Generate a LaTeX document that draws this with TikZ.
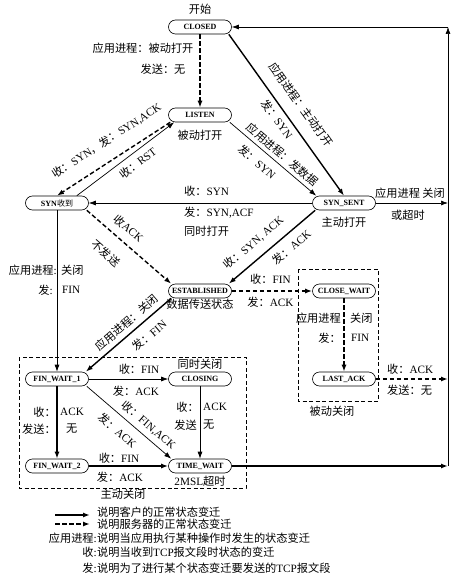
\documentclass[tikz,border=0pt]{standalone}
\usepackage{fontspec}
\setmainfont{Liberation Serif}
\newfontfamily\cjk{Noto Sans CJK SC}
\newcommand{\zh}[1]{{\cjk #1}}
\usepackage{tikz}
\usetikzlibrary{arrows.meta, positioning}
\tikzset{
	state/.style ={rectangle, rounded corners=7pt, draw=black, semithick, minimum width=63pt, minimum height=14pt, inner sep=1pt, font=\fontsize{8}{9}\selectfont\bfseries},
	client/.style={-{Latex[length=7pt, width=5pt]}, line width=1.4pt},
	server/.style={-{Latex[length=7pt, width=5pt]}, line width=1.4pt, dash pattern=on 4.5pt off 2.5pt},
	plain/.style ={-{Latex[length=7pt, width=5pt]}, line width=0.7pt},
	lbl/.style   ={font=\fontsize{11.2}{13}\selectfont, inner sep=0pt},
	zone/.style  ={draw=black, thin, dash pattern=on 4pt off 2.5pt},
}
\begin{document}
\begin{tikzpicture}[x=1pt, y=-1pt]
\useasboundingbox (0,0) rectangle (465,580);
\node[state] (closed)    at (200,27)  {CLOSED};
\node[state] (listen)    at (200,115) {LISTEN};
\node[state] (synrcvd)   at (57,203)  {SYN{\cjk\mdseries 收到}};
\node[state] (synsent)   at (344,203) {SYN\_SENT};
\node[state] (estab)     at (200,291) {ESTABLISHED};
\node[state] (closewait) at (344,291) {CLOSE\_WAIT};
\node[state] (finwait1)  at (57,379)  {FIN\_WAIT\_1};
\node[state] (closing)   at (200,379) {CLOSING};
\node[state] (lastack)   at (344,379) {LAST\_ACK};
\node[state] (finwait2)  at (57,466)  {FIN\_WAIT\_2};
\node[state] (timewait)  at (200,466) {TIME\_WAIT};
\coordinate (rtop)  at (448,27);
\coordinate (rsyn)  at (448,203);
\coordinate (rlast) at (448,379);
\coordinate (rbot)  at (448,466);
\draw[zone] (298,269) rectangle (378,401);
\draw[zone] (19,357) rectangle (246,488);
\node[lbl, above=5pt of closed] (start) {\zh{开始}};
\node[lbl, below=8pt of listen] (passopen) {\zh{被动打开}};
\node[lbl, below=7pt of synsent] (actopen) {\zh{主动打开}};
\node[lbl, below=1pt of estab] (datastate) {\zh{数据传送状态}};
\node[lbl, above=2pt of closing] (simclose) {\zh{同时关闭}};
\node[lbl, below=3pt of timewait] (msl) {2MSL\zh{超时}};
\node[lbl] (passclose) at (332,411) {\zh{被动关闭}};
\node[lbl] (actclose) at (123,494) {\zh{主动关闭}};

\draw[server] (closed) -- (listen);
\node[lbl] (c1) at (143,48) {\zh{应用进程：被动打开}};
\node[lbl] (c2) at (163,69) {\zh{发送：无}};
\draw[client] ([xshift=-3pt]closed.south east) -- (synsent.north)
	node[lbl, sloped, above=12pt, pos=0.5] (c3) {\zh{应用进程：主动打开}}
	node[lbl, sloped, below=4pt, pos=0.49] (c4) {\zh{发：}SYN};
\draw[plain] ([xshift=-2pt]listen.south east) -- ([xshift=4pt]synsent.north west)
	node[lbl, sloped, above=4pt, pos=0.54] (l1) {\zh{应用进程：发数据}}
	node[lbl, sloped, below=7pt, pos=0.41] (l2) {\zh{发：}SYN};
\draw[server] ([xshift=2pt]listen.south west) -- (synrcvd.north)
	node[lbl, sloped, above=13pt, pos=0.47] (l3) {\zh{收：}SYN\zh{，发：}SYN,ACK};
\draw[plain] ([xshift=-12pt]synrcvd.north east) -- ([xshift=6pt]listen.south west)
	node[lbl, sloped, below=5pt, pos=0.56] (r1) {\zh{收：}RST};
\draw[plain] (synsent) -- (synrcvd);
\node[lbl, anchor=west] (s1) at (184,191) {\zh{收：}SYN};
\node[lbl, anchor=west] (s2) at (184,213) {\zh{发：}SYN,ACF};
\node[lbl, anchor=west] (s3) at (184,231) {\zh{同时打开}};
\draw[plain] (synsent) -- (rsyn);
\node[lbl] (s4) at (410,193) {\zh{应用进程 关闭}};
\node[lbl] (s5) at (408,215) {\zh{或超时}};
\draw[server] ([xshift=-2pt]synrcvd.south east) -- ([xshift=3pt]estab.north west)
	node[lbl, sloped, above=8pt, pos=0.39] (r2) {\zh{收}ACK}
	node[lbl, sloped, below=14pt, pos=0.38] (r3) {\zh{不发送}};
\draw[client] ([xshift=3pt]synsent.south west) -- ([xshift=-3pt]estab.north east)
	node[lbl, sloped, above=9pt, pos=0.6] (s6) {\zh{收：}SYN, ACK}
	node[lbl, sloped, below=7pt, pos=0.37] (s7) {\zh{发：}ACK};
\draw[server] (estab) -- (closewait)
	node[lbl, above=5.5pt, pos=0.48] (e1) {\zh{收：}FIN}
	node[lbl, below=5.5pt, pos=0.48] (e2) {\zh{发：}ACK};
\draw[server] (closewait) -- (lastack);
\node[lbl, anchor=east] (w1) at (341,318) {\zh{应用进程}};
\node[lbl, anchor=west] (w2) at (350,318) {\zh{关闭}};
\node[lbl, anchor=east] (w3) at (341,338) {\zh{发：}};
\node[lbl, anchor=west] (w4) at (351,338) {FIN};
\draw[server] (lastack) -- (rlast);
\node[lbl, anchor=west] (k1) at (387,369) {\zh{收：}ACK};
\node[lbl, anchor=west] (k2) at (387,390) {\zh{发送：无}};
\draw[plain] (synrcvd) -- (finwait1);
\node[lbl, anchor=east] (v1) at (57,270) {\zh{应用进程}:};
\node[lbl, anchor=west] (v2) at (61,270) {\zh{关闭}};
\node[lbl, anchor=east] (v3) at (53,290) {\zh{发}:};
\node[lbl, anchor=west] (v4) at (62,290) {FIN};
\draw[client] ([xshift=3pt]estab.south west) -- ([xshift=-3pt]finwait1.north east)
	node[lbl, sloped, above=4.5pt, pos=0.44] (e3) {\zh{应用进程：关闭}}
	node[lbl, sloped, below=8pt, pos=0.36] (e4) {\zh{发：}FIN};
\draw[plain] (finwait1) -- (closing);
\node[lbl] (f1) at (139,369) {\zh{收：}FIN};
\node[lbl] (f2) at (136,391) {\zh{发：}ACK};
\draw[plain] ([xshift=-2pt]finwait1.south east) -- ([xshift=3pt]timewait.north west)
	node[lbl, sloped, above=5pt, pos=0.65] (f3) {\zh{收：}FIN,ACK}
	node[lbl, sloped, below=8pt, pos=0.47] (f4) {\zh{发：}ACK};
\draw[client] (finwait1) -- (finwait2);
\node[lbl, anchor=east] (f5) at (56,412) {\zh{收：}};
\node[lbl, anchor=west] (f6) at (60,412) {ACK};
\node[lbl, anchor=east] (f7) at (56,429) {\zh{发送：}};
\node[lbl, anchor=west] (f8) at (66,429) {\zh{无}};
\draw[plain] (closing) -- (timewait);
\node[lbl, anchor=east] (g1) at (199,407) {\zh{收：}};
\node[lbl, anchor=west] (g2) at (203,407) {ACK};
\node[lbl, anchor=east] (g3) at (197,425) {\zh{发送}};
\node[lbl, anchor=west] (g4) at (203,425) {\zh{无}};
\draw[client] (finwait2) -- (timewait);
\node[lbl] (h1) at (119,458) {\zh{收：}FIN};
\node[lbl] (h2) at (120,477) {\zh{发：}ACK};
\draw[client] (timewait) -- (rbot);
\draw[plain] (rbot) -- (rtop);
\draw[plain] (rtop) -- (closed);

\coordinate (ka) at (55,515);
\coordinate (kb) at (90,515);
\coordinate (kc) at (55,524);
\coordinate (kd) at (90,524);
\draw[client] (ka) -- (kb);
\draw[server] (kc) -- (kd);
\node[lbl, anchor=west] (n1) at (97,512) {\zh{说明客户的正常状态变迁}};
\node[lbl, anchor=west] (n2) at (97,524) {\zh{说明服务器的正常状态变迁}};
\node[lbl, anchor=east] (m3) at (97,538) {\zh{应用进程}:};
\node[lbl, anchor=west] (n3) at (97,538) {\zh{说明当应用执行某种操作时发生的状态变迁}};
\node[lbl, anchor=east] (m4) at (97,552) {\zh{收}:};
\node[lbl, anchor=west] (n4) at (97,552) {\zh{说明当收到}TCP\zh{报文段时状态的变迁}};
\node[lbl, anchor=east] (m5) at (97,568) {\zh{发}:};
\node[lbl, anchor=west] (n5) at (97,568) {\zh{说明为了进行某个状态变迁要发送的}TCP\zh{报文段}};
\end{tikzpicture}
\end{document}
